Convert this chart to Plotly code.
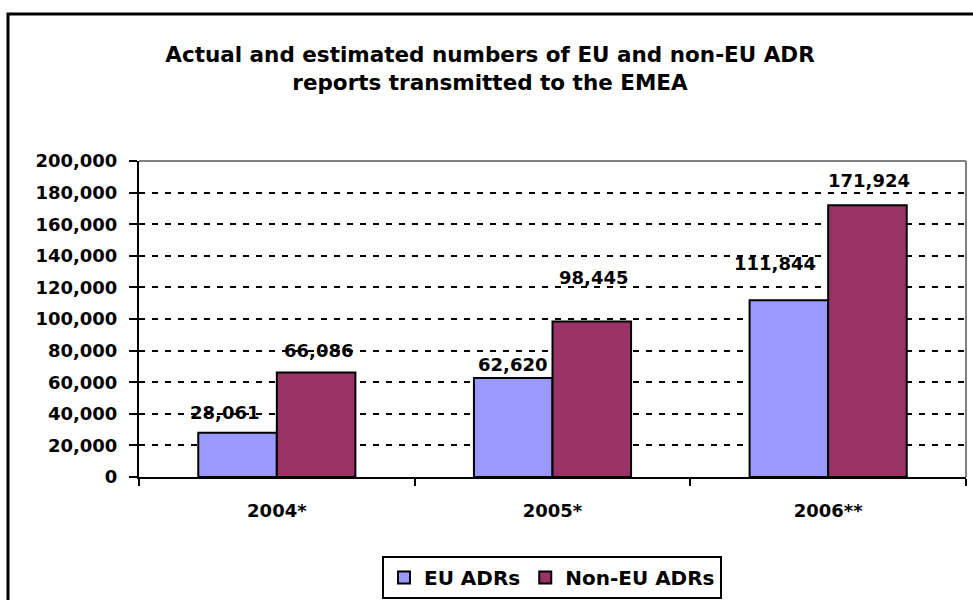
import plotly.graph_objects as go

categories = ["2004*", "2005*", "2006**"]
eu_adrs = [28061, 62620, 111844]
non_eu_adrs = [66086, 98445, 171924]
eu_labels = ["28,061", "62,620", "111,844"]
non_eu_labels = ["66,086", "98,445", "171,924"]
y_ticks = list(range(0, 200001, 20000))
y_tick_labels = [f"{v:,}" for v in y_ticks]

FONT = "DejaVu Sans, Liberation Sans, Arial, sans-serif"
W, H = 973, 600
L, R, T, B = 139, 7, 161, 123
pw, ph = W - L - R, H - T - B

fig = go.Figure()
fig.add_trace(go.Bar(name="EU ADRs", x=categories, y=eu_adrs,
                     marker=dict(color="#9999FF", line=dict(color="black", width=2))))
fig.add_trace(go.Bar(name="Non-EU ADRs", x=categories, y=non_eu_adrs,
                     marker=dict(color="#993366", line=dict(color="black", width=2))))

# label offsets (dx, dy) in px, mimicking the hand-placed labels
eu_off = [(-13, 20), (-1, 14), (-14, 37)]
non_off = [(2, 22), (1, 44), (1, 25)]
half = 39.5
for i, c in enumerate(categories):
    for val, txt, (dx, dy), sgn in ((eu_adrs[i], eu_labels[i], eu_off[i], -1),
                                    (non_eu_adrs[i], non_eu_labels[i], non_off[i], 1)):
        fig.add_annotation(x=c, y=val, text=txt, showarrow=False,
                           xshift=sgn * half + dx, yshift=dy, yanchor="middle",
                           font=dict(family=FONT, size=18, color="black", weight="bold"))

def px_x(p):
    return (p - L) / pw

def px_y(p):
    return (H - B - p) / ph

# plot area top/right gray border
fig.add_shape(type="line", xref="paper", yref="paper", x0=0, x1=1, y0=1, y1=1,
              line=dict(color="#808080", width=2))
fig.add_shape(type="line", xref="paper", yref="paper", x0=1, x1=1, y0=0, y1=1,
              line=dict(color="#808080", width=2))
# outer chart border
fig.add_shape(type="rect", xref="paper", yref="paper",
              x0=px_x(8), x1=px_x(990), y0=px_y(620), y1=px_y(14),
              line=dict(color="black", width=3))

fig.update_layout(
    width=W, height=H,
    margin=dict(l=L, r=R, t=T, b=B, autoexpand=False),
    paper_bgcolor="white", plot_bgcolor="white",
    barmode="group", bargap=0.43, bargroupgap=0,
    font=dict(family=FONT, color="black", weight="bold"),
    title=dict(text="Actual and estimated numbers of EU and non-EU ADR<br>reports transmitted to the EMEA",
               x=px_x(490), xanchor="center", xref="paper", y=1 - 62 / H, yanchor="middle",
               font=dict(family=FONT, size=21.5, color="black", weight="bold")),
    showlegend=True,
    legend=dict(orientation="h", x=px_x(552), xanchor="center", y=px_y(556), yanchor="top",
                bordercolor="black", borderwidth=2, bgcolor="white",
                font=dict(family=FONT, size=20, color="black", weight="bold"),
                itemwidth=30, traceorder="normal"),
)
fig.update_xaxes(type="category", showline=True, linecolor="black", linewidth=2,
                 ticks="outside", ticklen=7, tickwidth=2, tickcolor="black",
                 tickson="boundaries", showgrid=False,
                 tickfont=dict(family=FONT, size=18, color="black", weight="bold"),
                 ticklabelstandoff=16)
fig.update_yaxes(range=[0, 200000], tickvals=y_ticks, ticktext=y_tick_labels,
                 showline=True, linecolor="black", linewidth=2,
                 ticks="outside", ticklen=8, tickwidth=2, tickcolor="black",
                 showgrid=True, gridcolor="black", gridwidth=2, griddash="6px,7px",
                 zeroline=False, ticklabelstandoff=8,
                 tickfont=dict(family=FONT, size=18, color="black", weight="bold"))

fig.write_html("out.html", config={"displayModeBar": False},
               post_script="document.body.style.margin='0';")
